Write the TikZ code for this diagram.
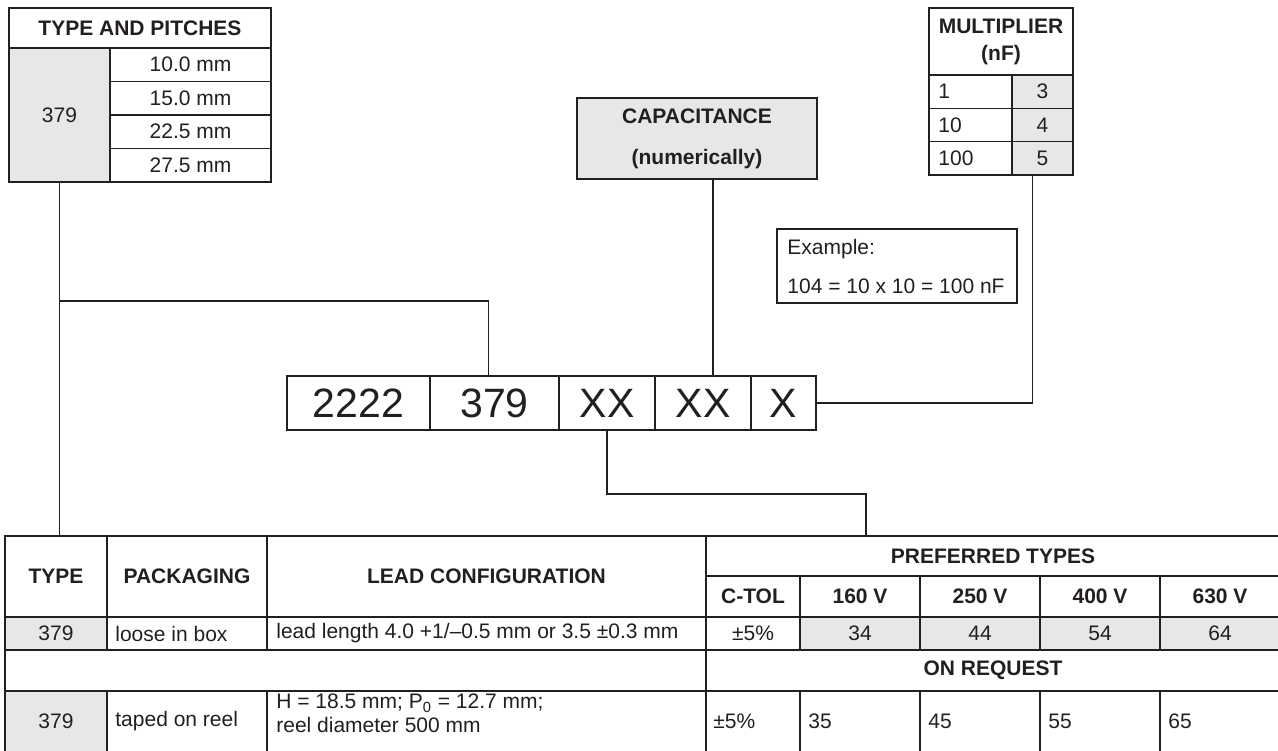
\documentclass[tikz,border=0pt]{standalone}
\usepackage{fontspec}
\setmainfont{Liberation Sans}
\usetikzlibrary{positioning,fit,calc}
\definecolor{ink}{HTML}{231F20}
\definecolor{shade}{HTML}{E6E7E8}
\tikzset{
  cell/.style={draw=ink, line width=0.6pt, inner sep=0pt, outer sep=0pt, text=ink, align=center},
  graycell/.style={cell, fill=shade},
  hdr/.style={font=\fontsize{10.5}{12}\selectfont\bfseries},
  txt/.style={text=ink, inner sep=0pt, align=left},
  codebox/.style={draw=ink, line width=1.1pt, inner sep=0pt, outer sep=0pt, minimum height=27pt,
    font=\fontsize{20.5}{24}\selectfont, text=ink},
  link/.style={draw=ink, line width=0.6pt},
}
% cell from corner (x1,y1) to corner (x2,y2), label centred in it
\newcommand{\tcell}[7][]{%
  \node[cell,#1,fit={(#3,#4) (#5,#6)}] (#2) {};
  \node[cell,#1,draw=none,fill=none] at (#2.center) {#7}}

\begin{document}
\begin{tikzpicture}[x=0.5pt, y=-0.5pt, font=\fontsize{10.5}{12}\selectfont]
\useasboundingbox (0,0) rectangle (1278,750);
\fill[white] (0,0) rectangle (1278,750);

% Type and pitches
\tcell[hdr]{tphead}{9}{8}{271}{48}{TYPE AND PITCHES};
\tcell[graycell]{tp379}{9}{48}{110}{182}{379};
\foreach \p [count=\i] in {10.0,15.0,22.5,27.5} {
  \pgfmathsetmacro{\ya}{48+(\i-1)*33.5}
  \pgfmathsetmacro{\yb}{\ya+33.5}
  \tcell{tp\i}{110}{\ya}{271}{\yb}{\p~mm};
}

% Capacitance
\tcell[graycell,hdr]{cap}{577}{98}{817}{179}{CAPACITANCE\\[8.5pt](numerically)};

% Multiplier
\tcell[hdr]{mulhead}{929}{8}{1073}{75}{MULTIPLIER\\[1.5pt](nF)};
\foreach \v/\m [count=\i] in {1/3,10/4,100/5} {
  \pgfmathsetmacro{\ya}{75+(\i-1)*100/3}
  \pgfmathsetmacro{\yb}{\ya+100/3}
  \tcell{mulv\i}{929}{\ya}{1012}{\yb}{};
  \node[txt, anchor=west] at ([xshift=4.5pt]mulv\i.west) {\v};
  \tcell[graycell]{mulm\i}{1012}{\ya}{1073}{\yb}{\m};
}

% Example
\tcell{expl}{777}{229}{1017}{303}{};
\node[txt, anchor=west] at ([xshift=5pt]expl.west) {Example:\\[7.5pt]104 = 10 x 10 = 100 nF};

% Code
\node[codebox, line width=0.6pt, minimum width=71.5pt] (c2222) at (358.5,403) {2222};
\node[codebox, minimum width=64.5pt, right=0pt of c2222] (c379) {379};
\node[codebox, minimum width=48pt, right=0pt of c379] (cxx1) {XX};
\node[codebox, minimum width=48pt, right=0pt of cxx1] (cxx2) {XX};
\node[codebox, minimum width=32.5pt, right=0pt of cxx2] (cx) {X};

% Main table, header
\tcell[hdr]{hType}{5}{536}{107}{617}{TYPE};
\tcell[hdr]{hPack}{107}{536}{267}{617}{PACKAGING};
\tcell[hdr]{hLead}{267}{536}{706}{617}{LEAD CONFIGURATION};
\tcell[hdr]{hPref}{706}{536}{1280}{576}{PREFERRED TYPES};
\tcell[hdr]{hTol}{706}{576}{800}{617}{C-TOL};
\foreach \u [count=\i] in {160,250,400,630} {
  \pgfmathsetmacro{\xa}{800+(\i-1)*120}
  \pgfmathsetmacro{\xb}{\xa+120}
  \tcell[hdr]{hV\u}{\xa}{576}{\xb}{617}{\u~V};
}

% loose in box
\tcell[graycell]{r1type}{5}{617}{107}{650}{379};
\tcell{r1pack}{107}{617}{267}{650}{};
\node[txt, anchor=west] at ([xshift=4pt]r1pack.west) {loose in box};
\tcell{r1lead}{267}{617}{706}{650}{};
\node[txt, anchor=west] at ([xshift=4.5pt]r1lead.west) {lead length 4.0 +1/–0.5 mm or 3.5 ±0.3 mm};
\tcell{r1tol}{706}{617}{800}{650}{±5\%};
\foreach \v [count=\i] in {34,44,54,64} {
  \pgfmathsetmacro{\xa}{800+(\i-1)*120}
  \pgfmathsetmacro{\xb}{\xa+120}
  \tcell[graycell]{r1v\v}{\xa}{617}{\xb}{650}{\v};
}

% on request
\tcell{r2blank}{5}{650}{706}{691}{};
\tcell[hdr]{hReq}{706}{650}{1280}{691}{ON REQUEST};

% taped on reel
\tcell[graycell]{r3type}{5}{691}{107}{752}{379};
\tcell{r3pack}{107}{691}{267}{752}{};
\node[txt, anchor=west] at ([xshift=4pt]r3pack.west) {taped on reel};
\tcell{r3lead}{267}{691}{706}{752}{};
\node[txt, anchor=west] at ([xshift=4.5pt,yshift=4pt]r3lead.west) {H = 18.5 mm; P\textsubscript{0} = 12.7 mm;\\reel diameter 500 mm};
\tcell{r3tol}{706}{691}{800}{752}{};
\node[txt, anchor=west] at ([xshift=3.5pt]r3tol.west) {±5\%};
\foreach \v [count=\i] in {35,45,55,65} {
  \pgfmathsetmacro{\xa}{800+(\i-1)*120}
  \pgfmathsetmacro{\xb}{\xa+120}
  \tcell{r3v\v}{\xa}{691}{\xb}{752}{};
  \node[txt, anchor=west] at ([xshift=4pt]r3v\v.west) {\v};
}

% Connectors
\draw[link] (tp379.south) -- (tp379.south |- hType.north);
\draw[link] (tp379.south) ++(0,119) -| ([xshift=-3pt]c379.north);
\draw[link] ([xshift=5pt]cxx2.north) -- ([xshift=5pt]cxx2.north |- cap.south);
\draw[link] ([xshift=-5pt]mulm3.south) |- (cx.east);
\draw[link] (cxx1.south) -- ++(0,64) -| ([xshift=80pt]hPref.north west);

\end{tikzpicture}
\end{document}
